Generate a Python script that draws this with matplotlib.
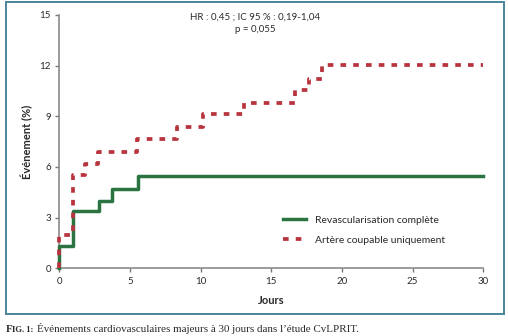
import matplotlib
matplotlib.use("Agg")
import matplotlib.pyplot as plt
from matplotlib.patches import Rectangle

# cumulative events (%) per day, step curves
jours_complete = [0, 0, 0.95, 2.8, 3.7, 5.6, 30]
evt_complete = [0, 1.3, 3.4, 4.0, 4.7, 5.45, 5.45]

jours_coupable = [0, 0, 0.95, 1.85, 2.75, 5.5, 8.35, 10.2, 13.1, 16.7, 17.7, 18.6, 30]
evt_coupable = [0, 2.0, 5.5, 6.2, 6.9, 7.65, 8.35, 9.15, 9.8, 10.55, 11.2, 12.05, 12.05]

xticks = [0, 5, 10, 15, 20, 25, 30]
yticks = [0, 3, 6, 9, 12, 15]

plt.rcParams['font.family'] = ['Lato', 'DejaVu Sans']

fig = plt.figure(figsize=(5.08, 3.36), dpi=100)
ax = fig.add_axes([59.3 / 508, 1 - 268.3 / 336, 424 / 508, 253.3 / 336])

green = '#2b7441'
red = '#b8343f'
txt = '#2a2a2a'

ax.plot(jours_complete, evt_complete, drawstyle='steps-post', color=green,
        lw=2.5, clip_on=False, zorder=3, label='Revascularisation complète')
ax.plot(jours_coupable, evt_coupable, drawstyle='steps-post', color=red,
        lw=2.7, ls=(0, (1.5, 1.9)), clip_on=False, zorder=4,
        label='Artère coupable uniquement')

ax.set_xlim(0, 30)
ax.set_ylim(0, 15)
ax.set_xticks(xticks)
ax.set_yticks(yticks)
ax.tick_params(direction='out', length=3, width=1, color='#777777',
               labelsize=7, labelcolor=txt, pad=3)
for s in ['top', 'right']:
    ax.spines[s].set_visible(False)
for s in ['left', 'bottom']:
    ax.spines[s].set_color('#8a8a8a')
    ax.spines[s].set_linewidth(1.2)

ax.legend(loc='center left', bbox_to_anchor=(0.528, 0.151), frameon=False,
          fontsize=7.5, handlelength=2.2, handletextpad=0.85, labelspacing=1.05,
          borderpad=0, borderaxespad=0, labelcolor=txt)

fig.text(27 / 508, 1 - 142 / 336, 'Événement (%)', rotation=90, ha='center',
         va='center', fontsize=8, fontweight='bold', color=txt)
fig.text(271 / 508, 1 - 300 / 336, 'Jours', ha='center', va='center',
         fontsize=8, fontweight='bold', color=txt)

fig.text(255 / 508, 1 - 17 / 336, 'HR : 0,45 ; IC 95 % : 0,19-1,04',
         ha='center', va='center', fontsize=7, color=txt)
fig.text(255 / 508, 1 - 30 / 336, 'p = 0,055', ha='center', va='center',
         fontsize=7, color=txt)

# frame around the chart
fig.patches.append(Rectangle((6 / 508, 1 - 314 / 336), 498 / 508, 312 / 336,
                             transform=fig.transFigure, fill=False,
                             ec='#4a8599', lw=1.4))

fig.text(6 / 508, 1 - 329 / 336, 'F', ha='left', va='center',
         fontsize=7.8, fontweight='bold', color=txt, family='Liberation Serif')
fig.text(12 / 508, 1 - 329.5 / 336, 'IG. 1:', ha='left', va='center',
         fontsize=6.2, fontweight='bold', color=txt, family='Liberation Serif')
fig.text(37 / 508, 1 - 329 / 336,
         'Événements cardiovasculaires majeurs à 30 jours dans l\u2019étude CvLPRIT.',
         ha='left', va='center', fontsize=7.9, color=txt,
         family='Liberation Serif')

fig.savefig('out.png', dpi=100)
